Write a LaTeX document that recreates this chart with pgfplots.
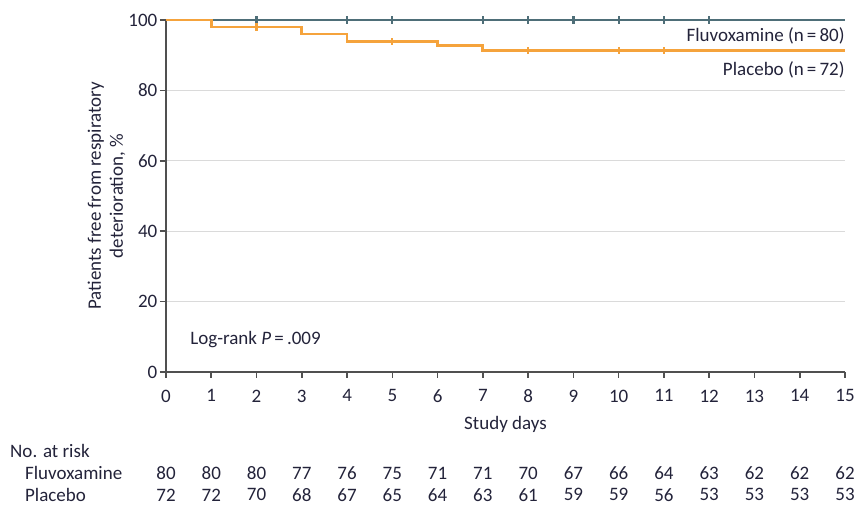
\documentclass[border=0pt]{standalone}
\usepackage{pgfplots}
\pgfplotsset{compat=1.18}
\usepackage{fontspec}
\setmainfont{Carlito}
\definecolor{fluvo}{HTML}{4E6E78}
\definecolor{plac}{HTML}{F5A33C}
\definecolor{txt}{HTML}{23233A}
\definecolor{axc}{HTML}{505050}
\definecolor{gridc}{HTML}{DADADA}
\begin{document}
\begin{tikzpicture}
\fontsize{9.5}{11}\selectfont
\begin{axis}[
  at={(0,0)}, anchor=south west,
  scale only axis, width=339.5pt, height=176pt,
  xmin=0, xmax=15, ymin=0, ymax=100,
  clip=false,
  axis lines*=left,
  axis line style={axc, line width=0.9pt},
  xtick={0,...,15}, ytick={0,20,...,100},
  tick style={axc, line width=0.8pt},
  tick align=outside, major tick length=3pt,
  ymajorgrids, grid style={gridc, line width=0.6pt},
  /pgf/number format/assume math mode=true,
  ticklabel style={font=\fontsize{9.5}{11}\selectfont, text=txt},
  xticklabel style={yshift=-2.5pt},
  yticklabel style={xshift=2pt},
  xlabel={Study days},
  xlabel style={font=\fontsize{9.5}{11}\selectfont, text=txt, yshift=0pt},
  ylabel={Patients free from respiratory\\deterioration, \%},
  ylabel style={font=\fontsize{9.5}{11}\selectfont, text=txt, align=center, yshift=-5pt},
]
% Fluvoxamine
\addplot[const plot, fluvo, line width=1.4pt] coordinates {(0,100) (15,100)};
\addplot[only marks, mark=|, mark size=1.8pt, fluvo, mark options={line width=1.1pt}] coordinates {(2,100)(4,100)(5,100)(7,100)(8,100)(9,100)(10,100)(11,100)(12,100)};
% Placebo
\addplot[const plot, plac, line width=1.4pt] coordinates {(0,100) (1,98.0) (3,96.0) (4,93.8) (6,92.7) (7,91.3) (15,91.3)};
\addplot[only marks, mark=|, mark size=1.8pt, plac, mark options={line width=1.1pt}] coordinates {(2,98.0)(5,93.8)(8,91.3)(10,91.3)(11,91.3)};
% number at risk
\addplot[draw=none, mark=none, nodes near coords, point meta=explicit symbolic,
  nodes near coords style={anchor=center, text=txt, inner sep=1pt, font=\fontsize{9.5}{11}\selectfont}]
  table[meta=n] {
x y n
0 -28.7 80
1 -28.7 80
2 -28.7 80
3 -28.7 77
4 -28.7 76
5 -28.7 75
6 -28.7 71
7 -28.7 71
8 -28.7 70
9 -28.7 67
10 -28.7 66
11 -28.7 64
12 -28.7 63
13 -28.7 62
14 -28.7 62
15 -28.7 62
};
\addplot[draw=none, mark=none, nodes near coords, point meta=explicit symbolic,
  nodes near coords style={anchor=center, text=txt, inner sep=1pt, font=\fontsize{9.5}{11}\selectfont}]
  table[meta=n] {
x y n
0 -34.9 72
1 -34.9 72
2 -34.9 70
3 -34.9 68
4 -34.9 67
5 -34.9 65
6 -34.9 64
7 -34.9 63
8 -34.9 61
9 -34.9 59
10 -34.9 59
11 -34.9 56
12 -34.9 53
13 -34.9 53
14 -34.9 53
15 -34.9 53
};
\node[anchor=west, text=txt, inner sep=0pt] at (axis cs:-3.45,-22.3) {No. at risk};
\node[anchor=west, text=txt, inner sep=0pt] at (axis cs:-3.12,-28.7) {Fluvoxamine};
\node[anchor=west, text=txt, inner sep=0pt] at (axis cs:-3.12,-34.9) {Placebo};
\node[anchor=west, text=txt, inner sep=0pt] at (axis cs:0.53,9.2) {Log-rank \textit{P}\,=\,.009};
\node[anchor=east, text=txt, inner sep=0pt] at (axis cs:15,95.6) {Fluvoxamine (n\,=\,80)};
\node[anchor=east, text=txt, inner sep=0pt] at (axis cs:15,85.8) {Placebo (n\,=\,72)};
\end{axis}
\pgfresetboundingbox
\useasboundingbox (-83pt,-67pt) rectangle (344pt,186pt);
\end{tikzpicture}
\end{document}
